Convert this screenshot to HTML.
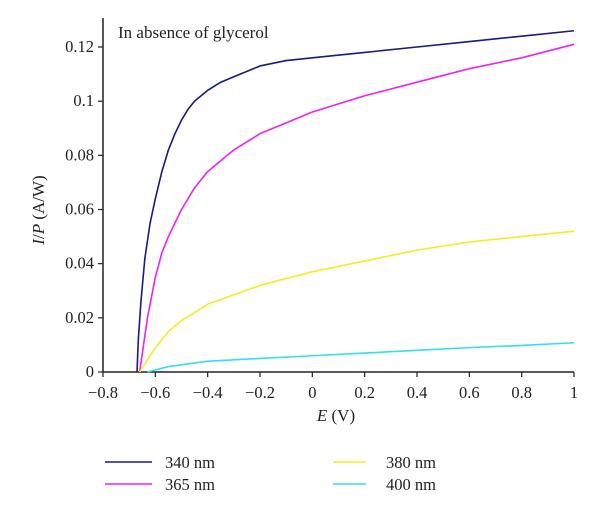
<!DOCTYPE html>
<html><head><meta charset="utf-8"><style>
body{margin:0;background:#fff}
svg text{font-family:"Liberation Serif",serif;fill:#222}
</style></head><body>
<svg width="600" height="514">
<g id="ax"></g><g id="series"></g>
<text x="118" y="38" font-size="17">In absence of glycerol</text>
<text x="336" y="421" font-size="17" text-anchor="middle"><tspan font-style="italic">E</tspan> (V)</text>
<text transform="translate(44,210) rotate(-90)" font-size="17" text-anchor="middle"><tspan font-style="italic">I</tspan>/<tspan font-style="italic">P</tspan> (A/W)</text>
<g id="legend"></g>
</svg>
<script>
const xTicks=[-0.8,-0.6,-0.4,-0.2,0,0.2,0.4,0.6,0.8,1];
const xTickLabels=["−0.8","−0.6","−0.4","−0.2","0","0.2","0.4","0.6","0.8","1"];
const yTicks=[0,0.02,0.04,0.06,0.08,0.1,0.12];
const yTickLabels=["0","0.02","0.04","0.06","0.08","0.1","0.12"];
const seriesNames=["340 nm","365 nm","380 nm","400 nm"];
const seriesColors=["#1a1a80","#ee22ee","#f0f020","#33e0e8"];
const e340=[-0.67,-0.665,-0.655,-0.64,-0.62,-0.6,-0.575,-0.55,-0.525,-0.5,-0.475,-0.45,-0.425,-0.4,-0.35,-0.3,-0.25,-0.2,-0.1,0,0.2,0.4,0.6,0.8,1];
const v340=[0,0.012,0.026,0.042,0.055,0.064,0.074,0.082,0.088,0.093,0.097,0.1,0.102,0.104,0.107,0.109,0.111,0.113,0.115,0.116,0.118,0.12,0.122,0.124,0.126];
const e365=[-0.66,-0.645,-0.63,-0.6,-0.575,-0.55,-0.5,-0.45,-0.4,-0.35,-0.3,-0.2,-0.1,0,0.2,0.4,0.6,0.8,1];
const v365=[0,0.01,0.02,0.035,0.044,0.05,0.06,0.068,0.074,0.078,0.082,0.088,0.092,0.096,0.102,0.107,0.112,0.116,0.121];
const e380=[-0.66,-0.6,-0.55,-0.5,-0.4,-0.2,0,0.2,0.4,0.6,0.8,1];
const v380=[0,0.009,0.015,0.019,0.025,0.032,0.037,0.041,0.045,0.048,0.05,0.052];
const e400=[-0.63,-0.55,-0.4,-0.2,0,0.2,0.4,0.6,0.8,1];
const v400=[0,0.002,0.004,0.005,0.006,0.007,0.008,0.009,0.0098,0.0108];
const X0=103,X1=574,Y0=372,Y1=47;
const sx=v=>X0+(v+0.8)/1.8*(X1-X0);
const sy=v=>Y0-v/0.12*(Y0-Y1);
const NS="http://www.w3.org/2000/svg";
function mk(t,a,p){const e=document.createElementNS(NS,t);for(const k in a)e.setAttribute(k,a[k]);p.appendChild(e);return e;}
const ax=document.getElementById('ax');
let l=mk('line',{x1:X0,y1:Y0,x2:X1,y2:Y0,stroke:'#222','stroke-width':1.5},ax);


l=mk('line',{x1:X0,y1:Y0,x2:X0,y2:18,stroke:'#222','stroke-width':1.5},ax);


xTicks.forEach((v,i)=>{mk('line',{x1:sx(v),y1:Y0,x2:sx(v),y2:Y0+5,stroke:'#222','stroke-width':1.2},ax);
const t=mk('text',{x:sx(v),y:Y0+26,'font-size':16.5,'text-anchor':'middle'},ax);t.textContent=xTickLabels[i];

});
yTicks.forEach((v,i)=>{mk('line',{x1:X0-5,y1:sy(v),x2:X0,y2:sy(v),stroke:'#222','stroke-width':1.2},ax);
const t=mk('text',{x:X0-9,y:sy(v)+5,'font-size':16.5,'text-anchor':'end'},ax);t.textContent=yTickLabels[i];

});
const es=[e340,e365,e380,e400],vs=[v340,v365,v380,v400];
const sg=document.getElementById('series');
es.forEach((e,i)=>{const p=mk('polyline',{points:e.map((x,j)=>sx(x)+','+sy(vs[i][j])).join(' '),fill:'none',stroke:seriesColors[i],'stroke-width':1.6,'stroke-linejoin':'round'},sg);

});
const lg=document.getElementById('legend');
const lpos=[[105,462,47,60],[105,484,47,60],[333,462,33,53],[333,484,33,53]];
seriesNames.forEach((n,i)=>{const [x,y,w,tx]=lpos[i];
mk('line',{x1:x,y1:y,x2:x+w,y2:y,stroke:seriesColors[i],'stroke-width':1.6},lg);
const t=mk('text',{x:x+tx,y:y+6,'font-size':16.5},lg);t.textContent=n;

});
</script>
</body></html>
